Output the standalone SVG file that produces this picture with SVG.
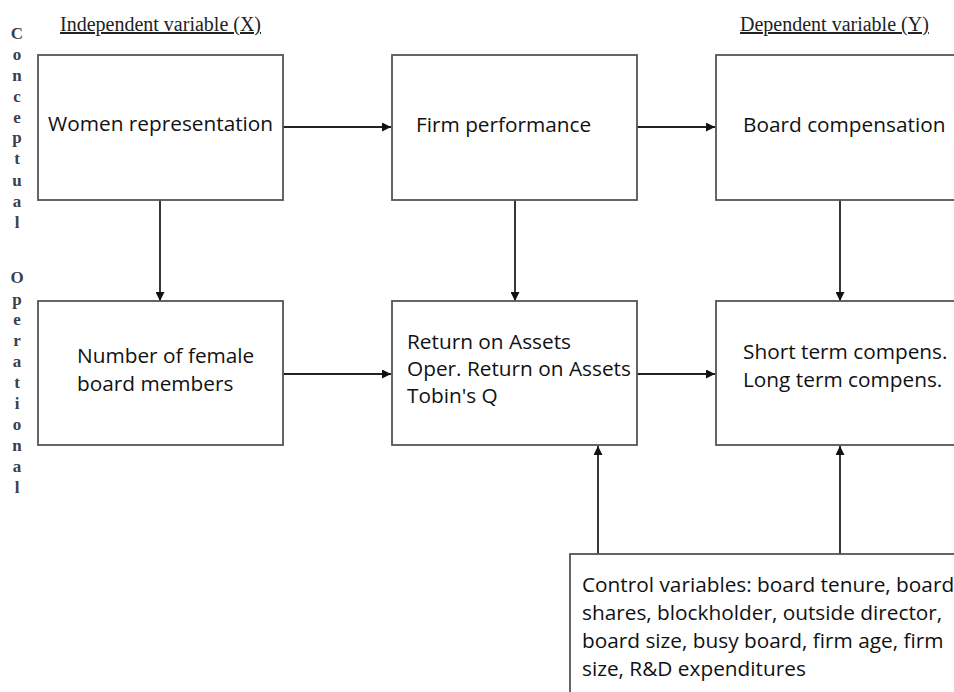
<svg xmlns="http://www.w3.org/2000/svg" width="954" height="692" viewBox="0 0 954 692">
<style>
.box{fill:#fff;stroke:#555;stroke-width:1.8}
.t{font-family:"Open Sans","Liberation Sans",Arial,sans-serif;font-size:20.8px;fill:#111}
.h{font-family:"Liberation Serif","Times New Roman",serif;font-size:20px;fill:#222;text-decoration:underline}
.v{font-family:"Liberation Serif","Times New Roman",serif;font-size:17px;font-weight:bold;fill:#3c4048;text-anchor:middle}
.c{stroke:#222;stroke-width:1.8;fill:none;marker-end:url(#ah)}
</style>
<defs>
<marker id="ah" viewBox="0 0 10 10" refX="10" refY="5" markerWidth="5" markerHeight="5" orient="auto" markerUnits="strokeWidth">
<path d="M0,0 L10,5 L0,10 z" fill="#111"/>
</marker>
</defs>
<rect width="954" height="692" fill="#fff"/>
<g id="headers">
<text class="h" x="60" y="31">Independent variable (X)</text>
<text class="h" x="740" y="31">Dependent variable (Y)</text>
</g>
<g id="side-conceptual">
<text class="v" x="17" y="39">C</text><text class="v" x="17" y="60">o</text><text class="v" x="17" y="81">n</text><text class="v" x="17" y="102">c</text><text class="v" x="17" y="123">e</text><text class="v" x="17" y="143">p</text><text class="v" x="17" y="164">t</text><text class="v" x="17" y="186">u</text><text class="v" x="17" y="207">a</text><text class="v" x="17" y="228">l</text>
</g>
<g id="side-operational">
<text class="v" x="17" y="283">O</text><text class="v" x="17" y="305">p</text><text class="v" x="17" y="325">e</text><text class="v" x="17" y="346">r</text><text class="v" x="17" y="367">a</text><text class="v" x="17" y="388">t</text><text class="v" x="17" y="409">i</text><text class="v" x="17" y="430">o</text><text class="v" x="17" y="451">n</text><text class="v" x="17" y="472">a</text><text class="v" x="17" y="493">l</text>
</g>
<g id="connectors">
<line class="c" x1="283" y1="127" x2="391" y2="127"/>
<line class="c" x1="637" y1="127" x2="715" y2="127"/>
<line class="c" x1="160" y1="200" x2="160" y2="301"/>
<line class="c" x1="515" y1="200" x2="515" y2="301"/>
<line class="c" x1="840" y1="200" x2="840" y2="301"/>
<line class="c" x1="283" y1="374" x2="391" y2="374"/>
<line class="c" x1="637" y1="374" x2="715" y2="374"/>
<line class="c" x1="598" y1="554" x2="598" y2="446"/>
<line class="c" x1="840" y1="554" x2="840" y2="446"/>
</g>
<g id="n1">
<rect class="box" x="38" y="55" width="245" height="145"/>
<text class="t" x="48" y="131">Women representation</text>
</g>
<g id="n2">
<rect class="box" x="392" y="55" width="245" height="145"/>
<text class="t" x="416" y="132">Firm performance</text>
</g>
<g id="n3">
<rect class="box" x="716" y="55" width="250" height="145"/>
<text class="t" x="743" y="132">Board compensation</text>
</g>
<g id="n4">
<rect class="box" x="38" y="301" width="245" height="144"/>
<text class="t" x="77" y="363">Number of female</text>
<text class="t" x="77" y="391">board members</text>
</g>
<g id="n5">
<rect class="box" x="392" y="301" width="245" height="144"/>
<text class="t" x="407" y="349">Return on Assets</text>
<text class="t" x="407" y="376">Oper. Return on Assets</text>
<text class="t" x="407" y="403">Tobin's Q</text>
</g>
<g id="n6">
<rect class="box" x="716" y="301" width="250" height="144"/>
<text class="t" x="743" y="359">Short term compens.</text>
<text class="t" x="743" y="387">Long term compens.</text>
</g>
<g id="n7">
<rect class="box" x="570" y="554" width="400" height="150"/>
<text class="t" x="582" y="592">Control variables: board tenure, board</text>
<text class="t" x="582" y="620">shares, blockholder, outside director,</text>
<text class="t" x="582" y="648">board size, busy board, firm age, firm</text>
<text class="t" x="582" y="676">size, R&amp;D expenditures</text>
</g>
</svg>
